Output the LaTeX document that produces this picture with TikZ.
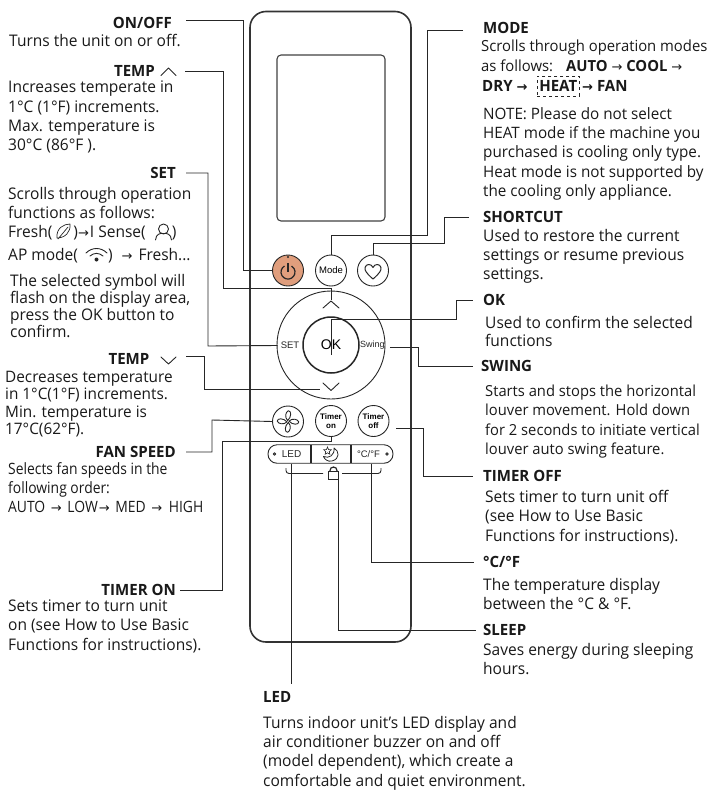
\documentclass[tikz,border=0pt]{standalone}
\usepackage{fontspec}
\usepackage{tikz}
\usetikzlibrary{shapes.geometric}
\setmainfont[FakeStretch=0.97]{Open Sans}
\newfontfamily\keyfont{Liberation Sans}
\newfontfamily\arrfont{DejaVu Sans}
\newfontfamily\narrowfont[FakeStretch=0.89]{Open Sans}
\newcommand{\toarr}{{\arrfont\fontsize{13}{13}\selectfont →}}
\definecolor{btnorange}{RGB}{224,158,125}
\tikzset{
  wire/.style={line width=0.9pt,black!85},
  glyph/.style={line width=0.9pt,black!85,line join=round,line cap=round},
  btn/.style={circle,draw=black!85,line width=0.9pt,minimum size=31pt,align=center},
  keytext/.style={font=\keyfont\fontsize{9}{9}\selectfont,text=black!85},
  lab/.style={font=\bfseries\fontsize{15.5}{17}\selectfont,text=black!90},
  desc/.style={anchor=north west,align=left,text=black!90,font=\fontsize{16}{19.3}\selectfont},
}
\begin{document}
\begin{tikzpicture}[x=1pt,y=-1pt]
\tikzstyle{every node}+=[inner sep=0pt]
\useasboundingbox (0,0) rectangle (709,793);
\draw [line width=1.6pt,black!80,rounded corners=16pt] (250,11.5) rectangle (411,642);
\draw [line width=1.1pt,black!75,rounded corners=4pt] (277,55) rectangle (385,221);
% top row
\node [btn,fill=btnorange] (powerbtn) at (288,270.5) {};
\node [btn,font=\keyfont\fontsize{9.5}{9.5}\selectfont] (modebtn) at (331,270.5) {Mode};
\node [btn] (heartbtn) at (373,270.5) {};
\draw [line width=1.2pt,black!85] (284.5,266) arc (-120:-420:7);
\draw [line width=1.2pt,black!85] (288,263) -- (288,272);
\fill [black!85] (288,257) circle (1.2);
\draw [glyph,line width=1pt] (373,279) .. controls (366,273) and (364.5,270) .. (365,267.5) .. controls (366,263.5) and (371.5,263.5) .. (373,267.5) .. controls (374.5,263.5) and (380,263.5) .. (381,267.5) .. controls (381.5,270) and (380,273) .. (373,279) -- cycle;
% ring
\node [circle,draw=black!85,line width=0.9pt,minimum size=108pt] (ring) at (331,345) {};
\node [btn,line width=1.5pt,minimum size=56pt,font=\keyfont\fontsize{14}{14}\selectfont] (okbtn) at (331,345) {OK};
\node [keytext,font=\keyfont\fontsize{9.5}{9.5}\selectfont] (setkey) at (290,345.5) {SET};
\node [keytext,font=\keyfont\fontsize{9}{9}\selectfont] (swingkey) at (372.5,345.5) {Swing};
\draw [glyph] (323,308) -- (331,301) -- (339,308);
\draw [glyph] (323,383) -- (331,390.5) -- (339,383);
\coordinate (upkey) at (331,300);
\coordinate (downkey) at (320,389);
% second row
\node [btn] (fanbtn) at (288,421.5) {};
\node [btn,font=\keyfont\bfseries\fontsize{8}{9}\selectfont] (timeronbtn) at (331,421) {Timer\\on};
\node [btn,font=\keyfont\bfseries\fontsize{8}{9}\selectfont] (timeroffbtn) at (373.5,421) {Timer\\off};
\draw [glyph,shift={(288,421.5)},rotate=20] (0,-1) .. controls (-2,-5) and (1,-10) .. (4,-10) .. controls (7,-9) and (5,-3) .. (0,-1) -- cycle;
\draw [glyph,shift={(288,421.5)},rotate=110] (0,-1) .. controls (-2,-5) and (1,-10) .. (4,-10) .. controls (7,-9) and (5,-3) .. (0,-1) -- cycle;
\draw [glyph,shift={(288,421.5)},rotate=200] (0,-1) .. controls (-2,-5) and (1,-10) .. (4,-10) .. controls (7,-9) and (5,-3) .. (0,-1) -- cycle;
\draw [glyph,shift={(288,421.5)},rotate=290] (0,-1) .. controls (-2,-5) and (1,-10) .. (4,-10) .. controls (7,-9) and (5,-3) .. (0,-1) -- cycle;
% strip under the buttons
\node [draw=black!85,line width=0.9pt,rounded corners=9pt,minimum width=125pt,minimum height=18.5pt] (stripbox) at (330.5,454) {};
\draw [wire,line width=1.1pt] (311,445) -- (311,463);
\draw [wire,line width=1.1pt] (351,445) -- (351,463);
\draw [glyph] (274.5,454) circle (1.3);
\draw [glyph] (387,454) circle (1.3);
\node [keytext,font=\keyfont\fontsize{10}{10}\selectfont] (ledkey) at (291.5,454.5) {LED};
\node [keytext,font=\keyfont\fontsize{9.5}{9.5}\selectfont] (tempkey) at (368.5,454.5) {°C/°F};
\draw [glyph,line width=0.8pt] (334,448) .. controls (339.5,451) and (340,459) .. (332,461) .. controls (328,462) and (324.5,459.5) .. (323.5,456.5) .. controls (329,459) and (335,455) .. (334,448) -- cycle;
\node [star,star points=5,star point ratio=2.2,draw=black!85,line width=0.6pt,minimum size=8pt] (sleepstar) at (327.5,451) {};
% lock and bracket
\node [draw=black!85,line width=1.3pt,minimum width=10.5pt,minimum height=8pt] (lockbody) at (333.5,475.5) {};
\draw [line width=1.2pt,black!85] (330,471.5) -- (330,470.5) arc (180:360:3.5) -- (337,471.5);
\draw [wire,rounded corners=3pt] (286,468) -- (286,473.5) -- (323,473.5);
\draw [wire,rounded corners=3pt] (342,473.5) -- (381,473.5) -- (381,468);
% left column
\node [lab,anchor=east] (onofflab) at (172,23) {ON/OFF};
\node [desc] (onofftxt) at (9,34) {Turns the unit on or off.};
\node [lab,anchor=east] (tempuplab) at (155,71) {TEMP};
\draw [glyph] (161,75.5) -- (168.5,68) -- (176,75.5);
\node [desc] (tempuptxt) at (8,81) {Increases temperate in\\1°C (1°F) increments.\\Max. temperature is\\30°C (86°F ).};
\node [lab,anchor=east] (setlab) at (176,173) {SET};
\node [desc] (settxt) at (8,187) {Scrolls through operation\\functions as follows:};
\node [desc] (freshtxt) at (8,225.5) {Fresh(\hspace{21pt})\toarr\hspace{1pt}I Sense(\hspace{26pt})};
\node [desc] (aptxt) at (8,248) {AP mode(\hspace{30pt}) \hspace{5pt}\toarr\hspace{2pt} Fresh...};
\node [desc,font=\fontsize{16}{17}\selectfont] (selecttxt) at (10,274) {The selected symbol will\\flash on the display area,\\press the OK button to\\confirm.};
\draw [glyph,line width=0.7pt] (57,238) .. controls (56,228) and (64,224) .. (70,224) .. controls (71,232) and (65,238) .. (57,238) -- cycle (58,239) -- (68,227);
\draw [glyph,line width=0.9pt] (163.5,229) circle (5) (155.5,240) .. controls (156,234) and (160,233) .. (163.5,233.5) .. controls (167,233) and (171,234) .. (171.5,240);
\draw [glyph] (86,253) .. controls (92,247) and (101,247) .. (107,253);
\draw [glyph] (90,256) .. controls (94,252.5) and (99,252.5) .. (103,256);
\fill [black!85] (96.5,259.5) circle (2);
\node [lab,anchor=east] (tempdownlab) at (149.5,359) {TEMP};
\draw [glyph] (161,357) -- (168.5,364) -- (176,357);
\node [desc,font=\fontsize{15.8}{17.4}\selectfont] (tempdowntxt) at (5,371) {Decreases temperature\\in 1°C(1°F) increments.\\Min. temperature is\\17°C(62°F).};
\node [lab,anchor=east] (fanlab) at (176,452) {FAN SPEED};
\node [desc,font=\narrowfont\fontsize{15.6}{19}\selectfont] (fantxt) at (8,462.5) {Selects fan speeds in the\\following order:\\AUTO\hspace{2pt} \toarr\hspace{2pt} LOW\hspace{1pt}\toarr\hspace{2pt} MED\hspace{2pt} \toarr\hspace{3pt} HIGH};
\node [lab,anchor=east] (timeronlab) at (176,590) {TIMER ON};
\node [desc,font=\fontsize{16}{19.5}\selectfont] (timerontxt) at (8,599.5) {Sets timer to turn unit\\on (see How to Use Basic\\Functions for instructions).};
\node [lab,anchor=west] (ledlab) at (263,697) {LED};
\node [desc] (ledtxt) at (263,716) {Turns indoor unit’s LED display and\\air conditioner buzzer on and off\\(model dependent), which create a\\comfortable and quiet environment.};
% right column
\node [lab,anchor=west] (modelab) at (483,28) {MODE};
\node [desc,font=\fontsize{15.3}{19.3}\selectfont] (modetxt) at (481,40) {Scrolls through operation modes\\as follows:\hspace{13pt}\textbf{AUTO} \toarr\ \textbf{COOL} \toarr};
\node [lab,anchor=west] (drylab) at (482,86) {DRY \toarr};
\node [lab,draw=black!85,dashed,line width=0.6pt,minimum width=42pt,minimum height=20pt,anchor=west] (heatlab) at (537,86) {HEAT};
\node [lab,anchor=west] (fanmodelab) at (582,86) {\toarr\ FAN};
\node [desc,font=\fontsize{15.7}{19.3}\selectfont] (notetxt) at (483,107) {NOTE: Please do not select\\HEAT mode if the machine you\\purchased is cooling only type.\\Heat mode is not supported by\\the cooling only appliance.};
\node [lab,anchor=west] (shortcutlab) at (483,217) {SHORTCUT};
\node [desc] (shortcuttxt) at (483,229) {Used to restore the current\\settings or resume previous\\settings.};
\node [lab,anchor=west] (oklab) at (483,300) {OK};
\node [desc,font=\fontsize{16}{18}\selectfont] (oktxt) at (485,316) {Used to confirm the selected\\functions};
\node [lab,anchor=west] (swinglab) at (481,366) {SWING};
\node [desc,font=\fontsize{15.2}{19.2}\selectfont] (swingtxt) at (485,385) {Starts and stops the horizontal\\louver movement. Hold down\\for 2 seconds to initiate vertical\\louver auto swing feature.};
\node [lab,anchor=west] (timerofflab) at (483,476) {TIMER OFF};
\node [desc] (timerofftxt) at (485,490) {Sets timer to turn unit off\\(see How to Use Basic\\Functions for instructions).};
\node [lab,anchor=west] (templab) at (483,562) {°C/°F};
\node [desc] (temptxt) at (483,578) {The temperature display\\between the °C \&\ °F.};
\node [lab,anchor=west] (sleeplab) at (483,630) {SLEEP};
\node [desc] (sleeptxt) at (483,643) {Saves energy during sleeping\\hours.};
% connectors
\draw [wire] ([shift={(14,-3)}]onofflab.east) -| (243,270.5) -- (powerbtn.west);
\draw [wire] ([xshift=30pt]tempuplab.east) -| (223,288.5) -| (upkey);
\draw [wire] ([xshift=10pt]setlab.east) -| (208,346) -- ([xshift=-3pt]setkey.west);
\draw [wire] ([shift={(36.5,-3)}]tempdownlab.east) -| (204,389) -- (downkey);
\draw [wire] ([xshift=10pt]fanlab.east) -| (212,420) -- (fanbtn.west);
\draw [wire] ([xshift=4pt]timeronlab.east) -| (222,441) -| (timeronbtn.south);
\draw [wire] ([xshift=-20pt,yshift=-2pt]modelab.west) -| (427,235) -| (modebtn.north);
\draw [wire] ([xshift=-14pt]shortcutlab.west) -| (444,243) -| (heartbtn.north);
\draw [wire] ([yshift=-10pt]okbtn.center) |- (456,319) |- ([xshift=-10pt]oklab.west);
\draw [wire] ([shift={(5,1.5)}]swingkey.east) -- (418,347) |- ([xshift=-8pt]swinglab.west);
\draw [wire] ([shift={(7,7)}]timeroffbtn.east) -- (423,428) |- ([xshift=-10pt]timerofflab.west);
\draw [wire] (stripbox.south -| ledkey) -- ([yshift=7pt]ledkey |- ledlab.north);
\draw [wire] ([xshift=4.5pt]lockbody.south) |- ([xshift=-7pt]sleeplab.west);
\draw [wire] ([xshift=2.5pt]stripbox.south -| tempkey) |- ([xshift=-9pt]templab.west);
\end{tikzpicture}
\end{document}
